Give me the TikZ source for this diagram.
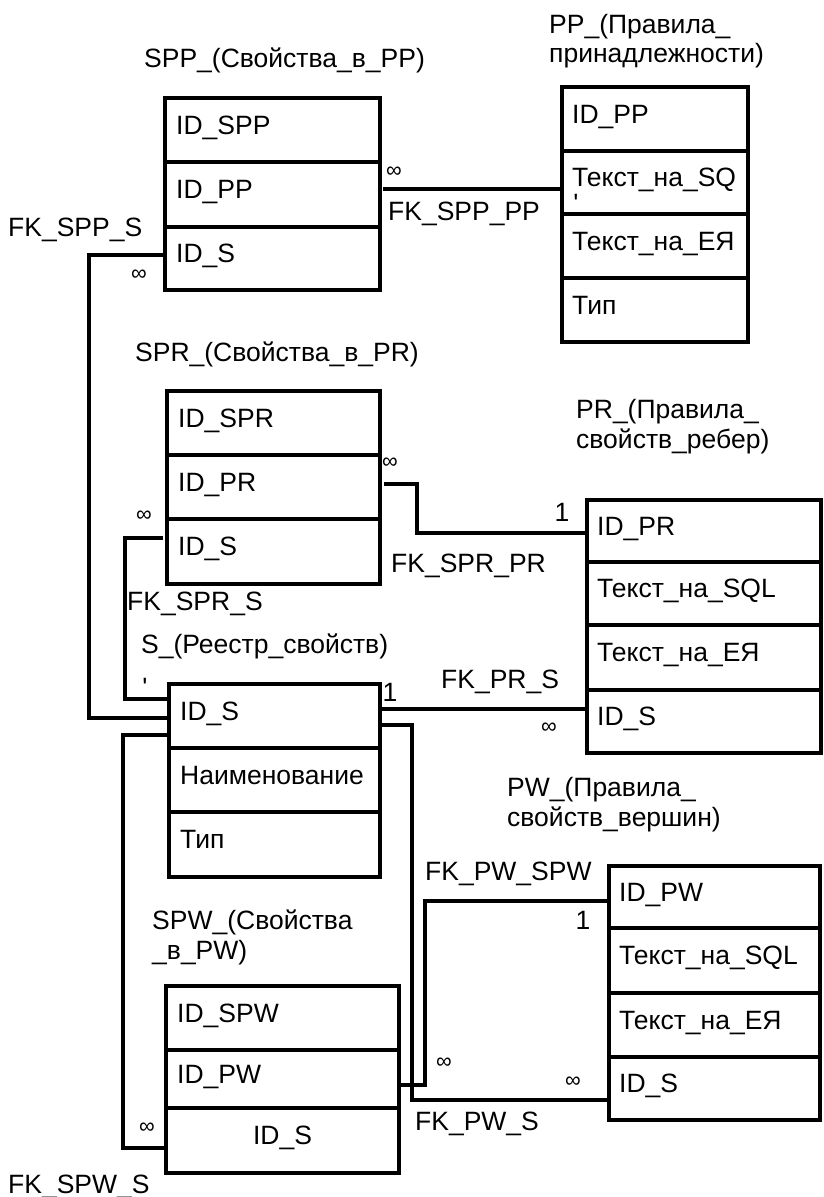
\documentclass[tikz,border=0pt]{standalone}
\usepackage{fontspec}
\setmainfont{Liberation Sans}
\newfontfamily\rawfont{Liberation Sans}[Ligatures=TeXOff]
\usetikzlibrary{calc}
\newcommand\tabfont{\fontsize{26.5}{30}\selectfont}
\newcommand\inffont{\fontsize{22}{24}\selectfont}
\begin{document}
\begin{tikzpicture}[x=1pt,y=-1pt,
  row/.style={draw, line width=4pt, outer sep=0pt, inner sep=0pt, anchor=north west},
  txt/.style={anchor=base west, inner sep=0pt, font=\tabfont},
  ctxt/.style={anchor=base, inner sep=0pt, font=\tabfont},
  tick/.style={inner sep=0pt, font=\rawfont\tabfont},
  conn/.style={line width=3.5pt},
  inf/.style={inner sep=0pt, font=\inffont},
  one/.style={inner sep=0pt, font=\tabfont}]
\useasboundingbox (0,0) rectangle (823,1197);

% ---------- SPP ----------
\node[txt] (tSPP) at (144,67) {SPP\_(Свойства\_в\_PP)};
\node[row, minimum width=215pt, minimum height=64pt] (spp1) at (165,98) {};
\node[row, minimum width=215pt, minimum height=65pt] (spp2) at (165,162) {};
\node[row, minimum width=215pt, minimum height=63pt] (spp3) at (165,227) {};
\node[txt] (tspp1) at ([xshift=11pt,yshift=-4pt]spp1.west) {ID\_SPP};
\node[txt] (tspp2) at ([xshift=11pt,yshift=-4pt]spp2.west) {ID\_PP};
\node[txt] (tspp3) at ([xshift=11pt,yshift=-4pt]spp3.west) {ID\_S};

% ---------- PP ----------
\node[txt] (tPP1) at (549,33) {PP\_(Правила\_};
\node[txt] (tPP2) at (549,62) {принадлежности)};
\node[row, minimum width=186pt, minimum height=64pt] (pp1) at (562,87) {};
\node[row, minimum width=186pt, minimum height=63pt] (pp2) at (562,151) {};
\node[row, minimum width=186pt, minimum height=64pt] (pp3) at (562,214) {};
\node[row, minimum width=186pt, minimum height=64pt] (pp4) at (562,278) {};
\node[txt] (tpp1) at ([xshift=10pt,yshift=-4pt]pp1.west) {ID\_PP};
\node[txt] (tpp2) at ([xshift=10pt,yshift=-4pt]pp2.west) {Текст\_на\_SQ};
\node[tick] (tpp2b) at (576,203) {'};
\node[txt] (tpp3) at ([xshift=10pt,yshift=-4pt]pp3.west) {Текст\_на\_ЕЯ};
\node[txt] (tpp4) at ([xshift=10pt,yshift=-4pt]pp4.west) {Тип};

% ---------- SPR ----------
\node[txt] (tSPR) at (135,361) {SPR\_(Свойства\_в\_PR)};
\node[row, minimum width=213pt, minimum height=64pt] (spr1) at (167,391) {};
\node[row, minimum width=213pt, minimum height=64pt] (spr2) at (167,455) {};
\node[row, minimum width=213pt, minimum height=65pt] (spr3) at (167,519) {};
\node[txt] (tspr1) at ([xshift=11pt,yshift=-4pt]spr1.west) {ID\_SPR};
\node[txt] (tspr2) at ([xshift=11pt,yshift=-4pt]spr2.west) {ID\_PR};
\node[txt] (tspr3) at ([xshift=11pt,yshift=-4pt]spr3.west) {ID\_S};

% ---------- PR ----------
\node[txt] (tPR1) at (576,418) {PR\_(Правила\_};
\node[txt] (tPR2) at (576,448) {свойств\_ребер)};
\node[row, minimum width=234pt, minimum height=62pt] (pr1) at (587,500) {};
\node[row, minimum width=234pt, minimum height=63pt] (pr2) at (587,562) {};
\node[row, minimum width=234pt, minimum height=65pt] (pr3) at (587,625) {};
\node[row, minimum width=234pt, minimum height=63pt] (pr4) at (587,690) {};
\node[txt] (tpr1) at ([xshift=10pt,yshift=-4pt]pr1.west) {ID\_PR};
\node[txt] (tpr2) at ([xshift=10pt,yshift=-4pt]pr2.west) {Текст\_на\_SQL};
\node[txt] (tpr3) at ([xshift=10pt,yshift=-4pt]pr3.west) {Текст\_на\_ЕЯ};
\node[txt] (tpr4) at ([xshift=10pt,yshift=-4pt]pr4.west) {ID\_S};

% ---------- S ----------
\node[txt] (tS) at (141,653) {S\_(Реестр\_свойств)};
\node[row, minimum width=211pt, minimum height=64pt] (s1) at (169,684) {};
\node[row, minimum width=211pt, minimum height=64pt] (s2) at (169,748) {};
\node[row, minimum width=211pt, minimum height=65pt] (s3) at (169,812) {};
\node[txt] (ts1) at ([xshift=11pt,yshift=-4pt]s1.west) {ID\_S};
\node[txt] (ts2) at ([xshift=11pt,yshift=-4pt]s2.west) {Наименование};
\node[txt] (ts3) at ([xshift=11pt,yshift=-4pt]s3.west) {Тип};
\node[tick] (tsmark) at (145,687) {'};

% ---------- PW ----------
\node[txt] (tPW1) at (507,796) {PW\_(Правила\_};
\node[txt] (tPW2) at (507,826) {свойств\_вершин)};
\node[row, minimum width=211pt, minimum height=62pt] (pw1) at (609,866) {};
\node[row, minimum width=211pt, minimum height=65pt] (pw2) at (609,928) {};
\node[row, minimum width=211pt, minimum height=64pt] (pw3) at (609,993) {};
\node[row, minimum width=211pt, minimum height=63pt] (pw4) at (609,1057) {};
\node[txt] (tpw1) at ([xshift=10pt,yshift=-4pt]pw1.west) {ID\_PW};
\node[txt] (tpw2) at ([xshift=10pt,yshift=-4pt]pw2.west) {Текст\_на\_SQL};
\node[txt] (tpw3) at ([xshift=10pt,yshift=-4pt]pw3.west) {Текст\_на\_ЕЯ};
\node[txt] (tpw4) at ([xshift=10pt,yshift=-4pt]pw4.west) {ID\_S};

% ---------- SPW ----------
\node[txt] (tSPW1) at (152,929) {SPW\_(Свойства};
\node[txt] (tSPW2) at (152,959) {\_в\_PW)};
\node[row, minimum width=233pt, minimum height=64pt] (spw1) at (166,986) {};
\node[row, minimum width=233pt, minimum height=58pt] (spw2) at (166,1050) {};
\node[row, minimum width=233pt, minimum height=65pt] (spw3) at (166,1108) {};
\node[txt] (tspw1) at ([xshift=11pt,yshift=-4pt]spw1.west) {ID\_SPW};
\node[txt] (tspw2) at ([xshift=11pt,yshift=-4pt]spw2.west) {ID\_PW};
\node[ctxt] (tspw3) at ([yshift=-4pt]spw3.center) {ID\_S};

% ---------- connectors ----------
% FK_SPP_PP
\coordinate (c1) at ([xshift=3pt,yshift=5.5pt]spp2.east);
\draw[conn] (c1) -- (c1 -| pp2.west);
% FK_SPP_S
\draw[conn] ([yshift=3.5pt]spp3.west) -- ++(-76,0) |- ([yshift=-2pt]s1.west);
% FK_SPR_PR
\draw[conn] ([xshift=4pt,yshift=3pt]spr2.east) -- ++(33,0) |- ([yshift=-2pt]pr1.west);
% FK_SPR_S
\draw[conn] ([xshift=-4pt,yshift=13.5pt]spr3.west) -- ++(-38,0) |- ([yshift=17pt]s1.west);
% FK_PR_S
\coordinate (c5) at ([yshift=7pt]s1.east);
\draw[conn] (c5) -- (c5 -| pr4.west);
% FK_PW_S
\draw[conn] ([yshift=-9pt]s1.east) -- ++(32,0) |- ([yshift=-11.5pt]pw4.west);
% FK_SPW_S
\draw[conn] ([yshift=-19pt]s1.west) -- ++(-46,0) |- ([yshift=-7.5pt]spw3.west);
% FK_PW_SPW
\draw[conn] ([yshift=-6pt]spw2.east) -- ++(26,0) |- ([yshift=-4pt]pw1.west);

% ---------- connector labels ----------
\node[txt] (lSPPS) at (8,236) {FK\_SPP\_S};
\node[txt] (lSPPPP) at (388,220) {FK\_SPP\_PP};
\node[txt] (lSPRPR) at (391,572) {FK\_SPR\_PR};
\node[txt] (lSPRS) at (127,610) {FK\_SPR\_S};
\node[txt] (lPRS) at (441,688) {FK\_PR\_S};
\node[txt] (lPWSPW) at (425,880) {FK\_PW\_SPW};
\node[txt] (lPWS) at (415,1130) {FK\_PW\_S};
\node[txt] (lSPWS) at (8,1193) {FK\_SPW\_S};

% ---------- cardinalities ----------
\node[inf] (m1) at (394,172) {∞};
\node[inf] (m2) at (139,275) {∞};
\node[inf] (m3) at (390,463) {∞};
\node[inf] (m4) at (144,516) {∞};
\node[one] (o1) at (562,512) {1};
\node[one] (o2) at (390,692) {1};
\node[inf] (m5) at (549,728) {∞};
\node[one] (o3) at (583,920) {1};
\node[inf] (m6) at (444,1063) {∞};
\node[inf] (m7) at (573,1082) {∞};
\node[inf] (m8) at (147,1128) {∞};
\end{tikzpicture}
\end{document}
